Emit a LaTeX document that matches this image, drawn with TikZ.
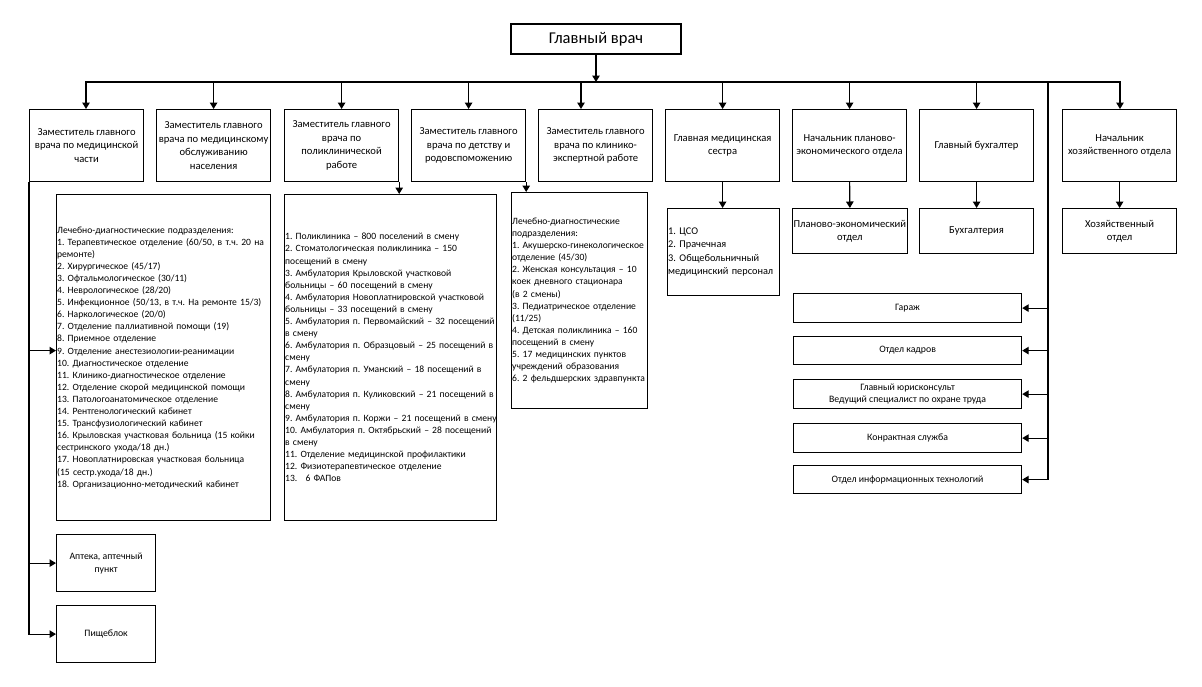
\documentclass[tikz,border=0pt]{standalone}
\usepackage{fontspec}
\setmainfont{Carlito}
\usetikzlibrary{arrows.meta,calc}
\begin{document}
\frenchspacing
\begin{tikzpicture}[x=1pt,y=-1pt,
  every node/.style={font=\fontsize{10.6}{13.5}\selectfont},
  box/.style={draw, line width=1.2pt, inner sep=1pt, align=center},
  lst/.style={inner sep=0pt, align=left, text width=260pt, font=\fontsize{9.6}{12.1}\selectfont},
  arr/.style={-{Triangle[length=6.5pt,width=7.5pt]}, line width=1.2pt},
  ln/.style={line width=1.2pt, line cap=rect}]
\useasboundingbox[fill=white] (0,0) rectangle (1202,686);

% top
\node[box, minimum width=170pt, minimum height=30pt, font=\fontsize{16.5}{19}\selectfont] (gv) at (596,39) {Главный врач};

% first row
\node[box, anchor=north west, minimum width=114pt, minimum height=72pt] (b1) at (29,109) {Заместитель главного\\врача по медицинской\\части};
\node[box, anchor=north west, minimum width=114pt, minimum height=72pt] (b2) at (156,109) {Заместитель главного\\врача по медицинскому\\обслуживанию\\населения};
\node[box, anchor=north west, minimum width=114pt, minimum height=72pt] (b3) at (284,109) {Заместитель главного\\врача по\\поликлинической\\работе};
\node[box, anchor=north west, minimum width=114pt, minimum height=72pt] (b4) at (411,109) {Заместитель главного\\врача по детству и\\родовспоможению};
\node[box, anchor=north west, minimum width=114pt, minimum height=72pt] (b5) at (538,109) {Заместитель главного\\врача по клинико-\\экспертной работе};
\node[box, anchor=north west, minimum width=114pt, minimum height=72pt] (b6) at (665,109) {Главная медицинская\\сестра};
\node[box, anchor=north west, minimum width=114pt, minimum height=72pt] (b7) at (792,109) {Начальник планово-\\экономического отдела};
\node[box, anchor=north west, minimum width=114pt, minimum height=72pt] (b8) at (919,109) {Главный бухгалтер};
\node[box, anchor=north west, minimum width=114pt, minimum height=72pt] (b9) at (1062,109) {Начальник\\хозяйственного отдела};

% lists
\node[box, anchor=north west, minimum width=214pt, minimum height=326pt] (lbox) at (56,194) {};
\node[lst, anchor=west] (ltext) at ($(lbox.west)+(1,0)$) {Лечебно-диагностические подразделения:\\
1. Терапевтическое отделение (60/50, в т.ч. 20 на\\
ремонте)\\
2. Хирургическое (45/17)\\
3. Офтальмологическое (30/11)\\
4. Неврологическое (28/20)\\
5. Инфекционное (50/13, в т.ч. На ремонте 15/3)\\
6. Наркологическое (20/0)\\
7. Отделение паллиативной помощи (19)\\
8. Приемное отделение\\
9. Отделение анестезиологии-реанимации\\
10. Диагностическое отделение\\
11. Клинико-диагностическое отделение\\
12. Отделение скорой медицинской помощи\\
13. Патологоанатомическое отделение\\
14. Рентгенологический кабинет\\
15. Трансфузиологический кабинет\\
16. Крыловская участковая больница (15 койки\\
сестринского ухода/18 дн.)\\
17. Новоплатнировская участковая больница\\
(15 сестр.ухода/18 дн.)\\
18. Организационно-методический кабинет};

\node[box, anchor=north west, minimum width=212pt, minimum height=326pt] (mbox) at (284,194) {};
\node[lst, anchor=west] (mtext) at ($(mbox.west)+(1,0)$) {1. Поликлиника – 800 поселений в смену\\
2. Стоматологическая поликлиника – 150\\
посещений в смену\\
3. Амбулатория Крыловской участковой\\
больницы – 60 посещений в смену\\
4. Амбулатория Новоплатнировской участковой\\
больницы – 33 посещений в смену\\
5. Амбулатория п. Первомайский – 32 посещений\\
в смену\\
6. Амбулатория п. Образцовый – 25 посещений в\\
смену\\
7. Амбулатория п. Уманский – 18 посещений в\\
смену\\
8. Амбулатория п. Куликовский – 21 посещений в\\
смену\\
9. Амбулатория п. Коржи – 21 посещений в смену\\
10. Амбулатория п. Октябрьский – 28 посещений\\
в смену\\
11. Отделение медицинской профилактики\\
12. Физиотерапевтическое отделение\\
13.\hspace{5pt} 6 ФАПов};

\node[box, anchor=north west, minimum width=136pt, minimum height=216pt] (tbox) at (511,192) {};
\node[lst, anchor=west] (ttext) at ($(tbox.west)+(1,0)$) {Лечебно-диагностические\\
подразделения:\\
1. Акушерско-гинекологическое\\
отделение (45/30)\\
2. Женская консультация – 10\\
коек дневного стационара\\
(в 2 смены)\\
3. Педиатрическое отделение\\
(11/25)\\
4. Детская поликлиника – 160\\
посещений в смену\\
5. 17 медицинских пунктов\\
учреждений образования\\
6. 2 фельдшерских здравпункта};

% second level right
\node[box, anchor=north west, minimum width=112pt, minimum height=87pt] (cso) at (667,208) {};
\node[lst, anchor=west, font=\fontsize{10.3}{13.3}\selectfont] (csotext) at ($(cso.west)+(1,0)$) {1. ЦСО\\2. Прачечная\\3. Общебольничный\\медицинский персонал};
\node[box, anchor=north west, minimum width=114pt, minimum height=45pt] (pe) at (792,208) {Планово-экономический\\отдел};
\node[box, anchor=north west, minimum width=114pt, minimum height=45pt] (buh) at (919,208) {Бухгалтерия};
\node[box, anchor=north west, minimum width=114pt, minimum height=45pt] (hoz) at (1062,208) {Хозяйственный\\отдел};

% right column
\node[box, anchor=north west, minimum width=228pt, minimum height=29pt, font=\fontsize{9.8}{12.5}\selectfont] (gar) at (793,293) {Гараж};
\node[box, anchor=north west, minimum width=228pt, minimum height=28pt, font=\fontsize{9.8}{12.5}\selectfont] (kad) at (793,336) {Отдел кадров};
\node[box, anchor=north west, minimum width=228pt, minimum height=29pt, font=\fontsize{9.8}{12.5}\selectfont] (yur) at (793,379) {Главный юрисконсульт\\Ведущий специалист по охране труда};
\node[box, anchor=north west, minimum width=228pt, minimum height=29pt, font=\fontsize{9.8}{12.5}\selectfont] (kon) at (793,423) {Конрактная служба};
\node[box, anchor=north west, minimum width=228pt, minimum height=28pt, font=\fontsize{9.8}{12.5}\selectfont] (it) at (793,465) {Отдел информационных технологий};

% bottom left
\node[box, anchor=north west, minimum width=99pt, minimum height=57pt, font=\fontsize{9.8}{13}\selectfont] (apt) at (56,534) {Аптека, аптечный\\пункт};
\node[box, anchor=north west, minimum width=99pt, minimum height=57pt, font=\fontsize{9.8}{13}\selectfont] (pish) at (56,605) {Пищеблок};

% connectors
\coordinate (bus) at (596,82);
\coordinate (busL) at (86,82);
\coordinate (busR) at (1120,82);
\coordinate (b5a) at (581,82);
\coordinate (rv) at (1048,82);
\draw[arr] (gv.south) -- (bus);
\draw[ln] (busL) -- (busR);
\draw[arr] (busL) -- (busL |- b1.north);
\draw[arr] (bus -| b2.north) -- (b2.north);
\draw[arr] (bus -| b3.north) -- (b3.north);
\draw[arr] (bus -| b4.north) -- (b4.north);
\draw[arr] (b5a) -- (b5a |- b5.north);
\draw[arr] (bus -| b6.north) -- (b6.north);
\draw[arr] (bus -| b7.north) -- (b7.north);
\draw[arr] (bus -| b8.north) -- (b8.north);
\draw[arr] (busR) -- (busR |- b9.north);

\draw[arr] (b6.south) -- (cso.north -| b6.south);
\draw[arr] (b7.south) -- (pe.north);
\draw[arr] (b8.south) -- (buh.north);
\draw[arr] (b9.south) -- (hoz.north);

\draw[arr] (b3.south east) -- (b3.south east |- mbox.north);
\draw[arr] (b4.south east) -- (b4.south east |- tbox.north);

\draw[ln] (b1.south west) -- (b1.south west |- pish.west);
\draw[arr] ($(b1.south west |- lbox.west)+(0,-7)$) -- ($(lbox.west)+(0,-7)$);
\draw[arr] (b1.south west |- apt.west) -- (apt.west);
\draw[arr] (b1.south west |- pish.west) -- (pish.west);

\draw[ln] (rv) -- (rv |- it.east);
\draw[arr] (rv |- gar.east) -- (gar.east);
\draw[arr] (rv |- kad.east) -- (kad.east);
\draw[arr] (rv |- yur.east) -- (yur.east);
\draw[arr] (rv |- kon.east) -- (kon.east);
\draw[arr] (rv |- it.east) -- (it.east);
\end{tikzpicture}
\end{document}
